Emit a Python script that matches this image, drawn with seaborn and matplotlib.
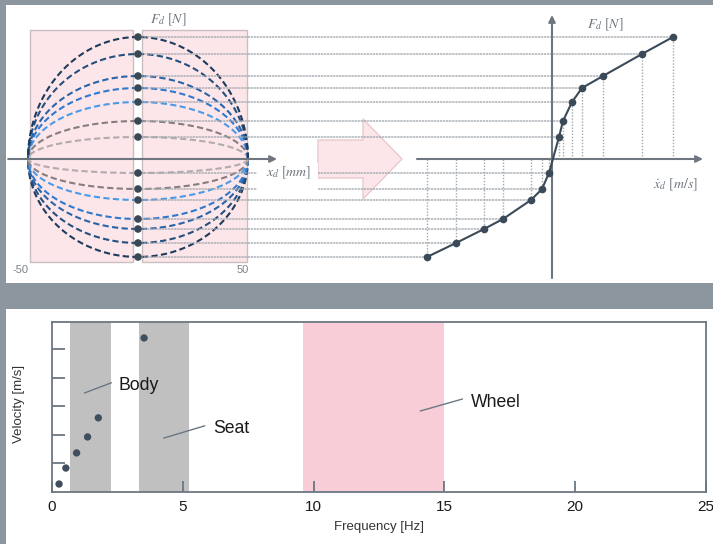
import numpy as np
import matplotlib
matplotlib.use('Agg')
import matplotlib.pyplot as plt
import seaborn as sns
from matplotlib.patches import Rectangle, Polygon, ConnectionPatch

# damper test: force levels (N) and the matching piston velocities (m/s)
force = [-980, -840, -700, -600, -410, -300, -140, 220, 380, 570, 710, 830, 1050, 1220]
velocity = [-1.25, -0.96, -0.68, -0.49, -0.21, -0.10, -0.03, 0.07, 0.11, 0.20, 0.30, 0.51, 0.90, 1.21]
stroke = 50  # mm
curve_colors = ['#1f3b5c', '#24507f', '#2a64a8', '#2f78d0', '#4a9ae8', '#867e7e', '#b3abab',
                '#b3abab', '#867e7e', '#4a9ae8', '#2f78d0', '#2a64a8', '#24507f', '#1f3b5c']

# frequency chart
freq = [0.27, 0.53, 0.94, 1.36, 1.77, 3.52]
vel = [0.28, 0.84, 1.37, 1.93, 2.60, 5.40]
bands = ['Body', 'Seat', 'Wheel']
band_lo = [0.69, 3.32, 9.58]
band_hi = [2.25, 5.23, 15.0]
band_colors = ['#c0c0c0', '#c0c0c0', '#f8cdd7']
label_x = [2.53, 6.17, 16.0]
label_y = [3.58, 2.07, 2.98]
lead_x = [[1.24, 2.27], [4.27, 5.84], [14.08, 15.69]]
lead_y = [[3.47, 3.83], [1.89, 2.32], [2.84, 3.26]]

sns.set_theme(style='white')
plt.rcParams['font.family'] = ['Liberation Sans', 'DejaVu Sans']
plt.rcParams['mathtext.fontset'] = 'stix'

W, H = 713, 544
fig = plt.figure(figsize=(W / 100, H / 100), dpi=100, facecolor='#8d969e')


def box(x0, y0, x1, y1):
    # pixel box (top-left origin) -> figure fraction rect
    return [x0 / W, 1 - y1 / H, (x1 - x0) / W, (y1 - y0) / H]


for b in (box(6, 5, 713, 283), box(6, 309, 713, 544)):
    fig.add_artist(Rectangle((b[0], b[1]), b[2], b[3], transform=fig.transFigure,
                             facecolor='white', edgecolor='none', zorder=-5))

axis_col = '#6e7780'
grid_col = '#a2a9af'

# ---- left: force vs displacement loops
axl = fig.add_axes(box(6, 5, 400, 283))
axl.set_xlim(-60, 119.1)
axl.set_ylim(-1240, 1540)
axl.axis('off')

for x0, w in [(-49.1, 46.8), (1.8, 47.7)]:
    axl.add_patch(Rectangle((x0, -1030), w, 2320, facecolor='#fce6ea',
                            edgecolor='#c9bfc1', lw=1, zorder=1))

axl.annotate('', xy=(63.2, 0), xytext=(-59, 0), zorder=5,
             arrowprops=dict(arrowstyle='-|>', color=axis_col, lw=1.5,
                             mutation_scale=10, shrinkA=0, shrinkB=0))

theta = np.linspace(0, np.pi, 300)
for f, c in zip(force, curve_colors):
    axl.plot(stroke * np.cos(theta), f * np.sin(theta), color=c, lw=1.5,
             dashes=(3, 1.6), zorder=3)

# big arrow between the two plots
arrow = [(81.8, -190), (102.3, -190), (102.3, -400), (120, 0),
         (102.3, 400), (102.3, 190), (81.8, 190)]
axl.add_patch(Polygon(arrow, closed=True, facecolor='#fce6ea', edgecolor='#e9c9cf',
                      lw=1, zorder=1.5, clip_on=False))

axr = fig.add_axes(box(400, 5, 713, 283))
axr.set_xlim(-1.52, 1.61)
axr.set_ylim(-1240, 1540)
axr.axis('off')

for f, v in zip(force, velocity):
    cp = ConnectionPatch((0, f), (v, f), coordsA=axl.transData, coordsB=axr.transData,
                         color=grid_col, lw=1, linestyle=(0, (1, 1.2)), zorder=4, clip_on=False)
    axl.add_artist(cp)

sns.scatterplot(x=[0] * len(force), y=force, ax=axl, color='#3a4856', s=30,
                edgecolor='none', zorder=6)

# white label box under the x_d label, cutting the guide lines
axl.add_patch(Rectangle((54.1, -340), 27.7, 300, facecolor='white', edgecolor='none', zorder=4.5))
axl.text(68.6, -140, r'$x_d\ [mm]$', fontsize=10, color=axis_col, ha='center', va='center', zorder=8)
axl.text(13.6, 1390, r'$F_d\ [N]$', fontsize=10, color=axis_col, ha='center', va='center')
axl.text(-53.6, -1110, '-50', fontsize=8, color='#7a828a', ha='center', va='center')
axl.text(47.7, -1110, '50', fontsize=8, color='#7a828a', ha='center', va='center')

# ---- right: force vs velocity
axr.vlines(velocity, 0, force, colors=grid_col, linestyles=(0, (1, 1.2)), lw=1, zorder=1)
axr.annotate('', xy=(1.51, 0), xytext=(-1.35, 0), zorder=2,
             arrowprops=dict(arrowstyle='-|>', color=axis_col, lw=1.5,
                             mutation_scale=10, shrinkA=0, shrinkB=0))
axr.annotate('', xy=(0, 1440), xytext=(0, -1190), zorder=2,
             arrowprops=dict(arrowstyle='-|>', color=axis_col, lw=1.5,
                             mutation_scale=10, shrinkA=0, shrinkB=0))
sns.lineplot(x=velocity, y=force, ax=axr, sort=False, color='#3b4a58', lw=1.5,
             marker='o', markersize=5.5, markeredgewidth=0, zorder=5)
axr.text(0.35, 1340, r'$F_d\ [N]$', fontsize=10, color=axis_col, ha='left', va='center')
axr.text(1.01, -260, r'$\dot{x}_d\ [m/s]$', fontsize=10, color=axis_col, ha='left', va='center')

# ---- bottom: frequency bands
axb = fig.add_axes(box(52, 322, 706, 492))
for lo, hi, c in zip(band_lo, band_hi, band_colors):
    axb.axvspan(lo, hi, color=c, lw=0, zorder=0)
sns.scatterplot(x=freq, y=vel, ax=axb, color='#3f4f5e', s=28, edgecolor='none', zorder=3)
for name, tx, ty, lx, ly in zip(bands, label_x, label_y, lead_x, lead_y):
    axb.plot(lx, ly, color='#6b7783', lw=1, zorder=2)
    axb.text(tx, ty, name, fontsize=12.7, color='#1a1a1a', ha='left', va='baseline')

axb.set_xlim(0, 25)
axb.set_ylim(0, 5.96)
axb.set_xticks([0, 5, 10, 15, 20, 25])
axb.set_yticks([1, 2, 3, 4, 5])
axb.tick_params(axis='x', bottom=True, direction='in', length=8, width=1.3, color='#6b7783',
                labelsize=11, pad=6, labelcolor='#1a1a1a')
axb.tick_params(axis='y', left=True, direction='in', length=9.5, width=1.3, color='#6b7783',
                labelleft=False)
for s in axb.spines.values():
    s.set_color('#6b7783')
    s.set_linewidth(1.3)
axb.set_xlabel('Frequency [Hz]', fontsize=9.5, color='#333333', labelpad=5)
axb.set_ylabel('Velocity [m/s]', fontsize=9.5, color='#333333')
axb.yaxis.set_label_coords(-0.041, 0.52)

fig.savefig('out.png', dpi=100, facecolor=fig.get_facecolor())
